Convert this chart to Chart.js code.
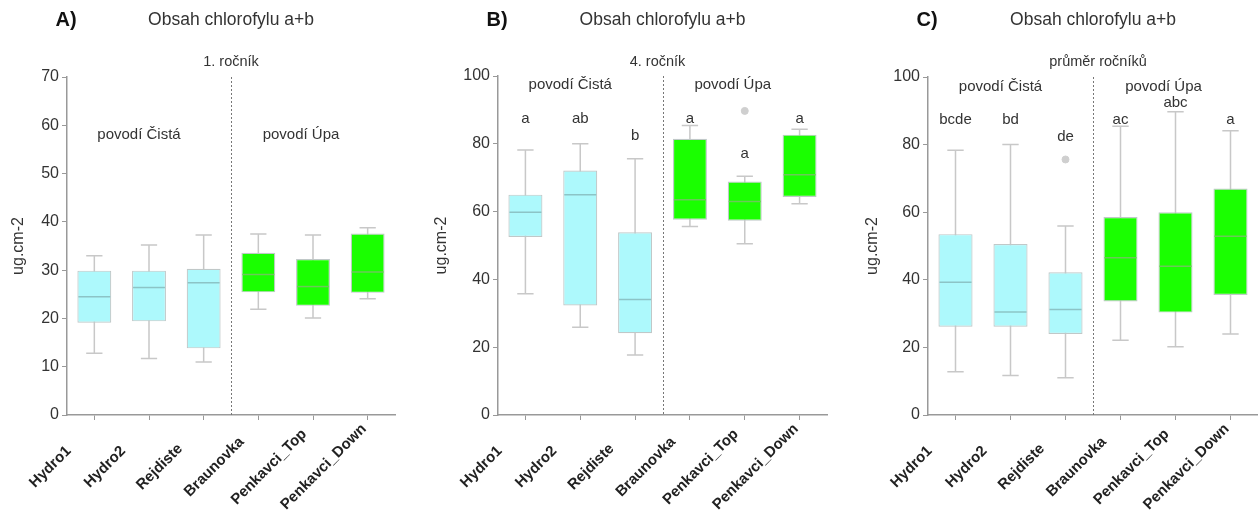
<!DOCTYPE html>
<html>
<head>
<meta charset="utf-8">
<script src="https://cdn.jsdelivr.net/npm/chart.js@4/dist/chart.umd.min.js"></script>
<style>
  body { margin: 0; background: #fff; overflow: hidden; }
  canvas { position: absolute; top: 0; }
</style>
</head>
<body>
<canvas id="chartA" width="420" height="513" style="left:0px"></canvas>
<canvas id="chartB" width="420" height="513" style="left:420px"></canvas>
<canvas id="chartC" width="423" height="513" style="left:840px"></canvas>
<script>
// sites
var categories = ['Hydro1', 'Hydro2', 'Rejdiste', 'Braunovka', 'Penkavci_Top', 'Penkavci_Down'];

// A) 1. rocnik
var minA = [12.8, 11.7, 11.0, 21.9, 20.1, 24.1];
var q1A  = [19.1, 19.4, 13.8, 25.4, 22.6, 25.3];
var medA = [24.5, 26.4, 27.4, 29.1, 26.6, 29.6];
var q3A  = [29.9, 29.9, 30.3, 33.6, 32.3, 37.6];
var maxA = [33.0, 35.2, 37.3, 37.5, 37.3, 38.8];
var outA = [null, null, null, null, null, null];
var lettersA = ['', '', '', '', '', ''];
var letterYA = [0, 0, 0, 0, 0, 0];
var ticksA = [0, 10, 20, 30, 40, 50, 60, 70];

// B) 4. rocnik
var minB = [35.8, 25.9, 17.7, 55.6, 50.5, 62.3];
var q1B  = [52.5, 32.3, 24.1, 57.6, 57.3, 64.3];
var medB = [59.8, 65.0, 34.1, 63.5, 63.0, 70.9];
var q3B  = [65.0, 72.1, 53.9, 81.5, 68.9, 82.7];
var maxB = [78.2, 80.0, 75.6, 85.4, 70.4, 84.3];
var outB = [null, null, null, null, 89.7, null];
var lettersB = ['a', 'ab', 'b', 'a', 'a', 'a'];
var letterYB = [87.3, 87.3, 82.3, 87.3, 77.0, 87.3];
var ticksB = [0, 20, 40, 60, 80, 100];

// C) prumer rocniku
var minC = [12.8, 11.7, 11.0, 22.1, 20.2, 24.0];
var q1C  = [26.1, 26.1, 24.0, 33.6, 30.3, 35.5];
var medC = [39.3, 30.5, 31.2, 46.5, 44.0, 52.9];
var q3C  = [53.5, 50.6, 42.2, 58.6, 60.0, 67.0];
var maxC = [78.3, 80.0, 55.9, 85.4, 89.7, 84.1];
var outC = [null, null, 75.6, null, null, null];
var lettersC = ['bcde', 'bd', 'de', 'ac', 'abc', 'a'];
var letterYC = [87.3, 87.3, 82.4, 87.3, 92.3, 87.3];
var ticksC = [0, 20, 40, 60, 80, 100];

var FONT = '"Liberation Sans", Arial, sans-serif';
var CYAN = '#adf9fc', GREEN = '#1aff00';

var boxParts = {
    id: 'boxParts',
    beforeDatasetsDraw: function (chart, args, o) {
        var x = chart.scales.x, y = chart.scales.y, ctx = chart.ctx;
        var bars = chart.getDatasetMeta(0).data;
        ctx.save();
        ctx.strokeStyle = '#c8c8c8';
        ctx.lineWidth = 1.5;
        for (var i = 0; i < categories.length; i++) {
            var cx = x.getPixelForValue(i);
            var half = bars[i].width * 0.24;
            ctx.beginPath();
            ctx.moveTo(cx, y.getPixelForValue(o.min[i]));
            ctx.lineTo(cx, y.getPixelForValue(o.max[i]));
            [o.min[i], o.max[i]].forEach(function (v) {
                var py = y.getPixelForValue(v);
                ctx.moveTo(cx - half, py);
                ctx.lineTo(cx + half, py);
            });
            ctx.stroke();
        }
        ctx.restore();
    },
    afterDatasetsDraw: function (chart, args, o) {
        var x = chart.scales.x, y = chart.scales.y, ctx = chart.ctx;
        var bars = chart.getDatasetMeta(0).data;
        ctx.save();
        ctx.lineWidth = 1.5;
        for (var i = 0; i < categories.length; i++) {
            var cx = x.getPixelForValue(i);
            var half = bars[i].width / 2;
            var py = y.getPixelForValue(o.med[i]);
            ctx.strokeStyle = i < 3 ? '#8cc4c6' : '#6cc85a';
            ctx.beginPath();
            ctx.moveTo(cx - half + 1, py);
            ctx.lineTo(cx + half - 1, py);
            ctx.stroke();
        }
        // significance letters
        ctx.fillStyle = '#333';
        ctx.font = '15px ' + FONT;
        ctx.textAlign = 'center';
        ctx.textBaseline = 'middle';
        for (var j = 0; j < categories.length; j++) {
            if (!o.letters[j]) continue;
            ctx.fillText(o.letters[j], x.getPixelForValue(j), y.getPixelForValue(o.letterY[j]));
        }
        ctx.restore();
    },
    afterDraw: function (chart, args, o) {
        var x = chart.scales.x, y = chart.scales.y, ctx = chart.ctx, a = chart.chartArea;
        var dx = (x.getPixelForValue(2) + x.getPixelForValue(3)) / 2;
        ctx.save();
        ctx.strokeStyle = '#777';
        ctx.lineWidth = 1;
        ctx.setLineDash([2, 2]);
        ctx.beginPath();
        ctx.moveTo(Math.round(dx) + 0.5, a.top);
        ctx.lineTo(Math.round(dx) + 0.5, a.bottom);
        ctx.stroke();
        ctx.setLineDash([]);

        ctx.fillStyle = '#333';
        ctx.textAlign = 'center';
        ctx.textBaseline = 'middle';
        ctx.font = '17.5px ' + FONT;
        ctx.fillText('Obsah chlorofylu a+b', dx, 20);
        ctx.font = '14.5px ' + FONT;
        ctx.fillText(o.subtitle, dx + o.subShift, 62);
        ctx.font = '15px ' + FONT;
        var gy = y.getPixelForValue(o.groupY);
        ctx.fillText('povodí Čistá', x.getPixelForValue(1) - 10, gy);
        ctx.fillText('povodí Úpa', x.getPixelForValue(4) - 12, gy);
        ctx.fillStyle = '#111';
        ctx.font = 'bold 20px ' + FONT;
        ctx.fillText(o.panel, a.left - 1, 20);

        // category labels, rotated 45 deg and centred below-left of each tick
        ctx.fillStyle = '#222';
        ctx.font = 'bold 15px ' + FONT;
        chart.data.labels.forEach(function (lab, i) {
            ctx.save();
            ctx.translate(x.getPixelForValue(i) - 44, a.bottom + 52);
            ctx.rotate(-Math.PI / 4);
            ctx.fillText(lab, 0, 0);
            ctx.restore();
        });
        ctx.restore();
    }
};

function makeChart(id, q1, q3, med, mn, mx, out, letters, letterY, ticks, panel, subtitle, subShift, groupY, axisLeft, padTop, padRight, titlePad) {
    var ctx = document.getElementById(id).getContext('2d');
    var colors = categories.map(function (c, i) { return i < 3 ? CYAN : GREEN; });
    var cfg = {
        type: 'bar',
        data: {
            labels: categories,
            datasets: [{
                data: q1.map(function (v, i) { return [v, q3[i]]; }),
                backgroundColor: colors,
                borderColor: '#c0c8c8',
                borderWidth: 1.2,
                borderSkipped: false,
                barPercentage: 0.62,
                categoryPercentage: 1
            }, {
                type: 'line',
                data: out,
                showLine: false,
                pointRadius: 3.5,
                pointBackgroundColor: '#cfcfcf',
                pointBorderColor: '#cfcfcf'
            }]
        },
        options: {
            responsive: false,
            animation: false,
            layout: { padding: { top: padTop, right: padRight, left: 0, bottom: 0 } },
            plugins: {
                legend: { display: false },
                tooltip: { enabled: false },
                boxParts: {
                    min: mn, max: mx, med: med, letters: letters, letterY: letterY,
                    panel: panel, subtitle: subtitle, subShift: subShift, groupY: groupY
                }
            },
            scales: {
                x: {
                    offset: true,
                    grid: { drawOnChartArea: false, offset: false, tickLength: 5, color: '#999' },
                    border: { color: '#999', width: 1.5 },
                    ticks: { display: false },
                    afterFit: function (s) { s.height = 98; }
                },
                y: {
                    min: ticks[0], max: ticks[ticks.length - 1],
                    afterBuildTicks: function (s) { s.ticks = ticks.map(function (v) { return { value: v }; }); },
                    grid: { drawOnChartArea: false, tickLength: 5, color: '#999' },
                    border: { color: '#999', width: 1.5 },
                    ticks: { padding: 3, color: '#333', font: { family: FONT, size: 16 } },
                    title: {
                        display: true, text: 'ug.cm-2', color: '#333',
                        font: { family: FONT, size: 16 }, padding: { top: titlePad, bottom: 0 }
                    },
                    afterFit: function (s) { s.width = axisLeft; }
                }
            }
        },
        plugins: [boxParts]
    };
    return new Chart(ctx, cfg);
}

window.onload = function () {
    makeChart('chartA', q1A, q3A, medA, minA, maxA, outA, lettersA, letterYA, ticksA,
        'A)', '1. ročník', 0, 58, 67, 77, 25, 9.4);
    makeChart('chartB', q1B, q3B, medB, minB, maxB, outB, lettersB, letterYB, ticksB,
        'B)', '4. ročník', -5, 97.3, 78, 76, 13, 12);
    makeChart('chartC', q1C, q3C, medC, minC, maxC, outC, lettersC, letterYC, ticksC,
        'C)', 'průměr ročníků', 5, 97.1, 88, 77, 0, 23);
};
</script>
</body>
</html>
